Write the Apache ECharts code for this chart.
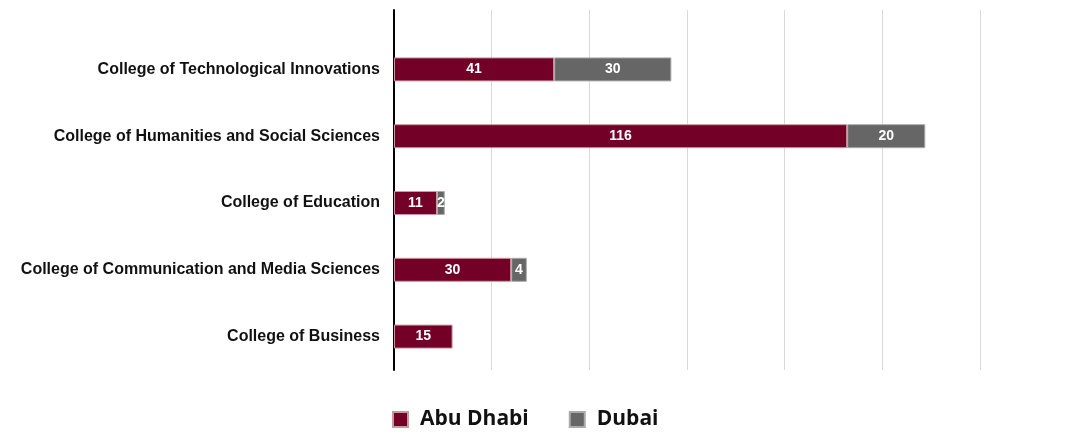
<!DOCTYPE html>
<html>
<head>
<meta charset="utf-8">
<script src="https://cdn.jsdelivr.net/npm/echarts@6/dist/echarts.min.js"></script>
<style>
  html, body { margin: 0; padding: 0; background: #fff; }
  #chart { width: 1067px; height: 435px; }
</style>
</head>
<body>
<div id="chart"></div>
<script>
// colleges, top to bottom
const colleges = [
  'College of Technological Innovations',
  'College of Humanities and Social Sciences',
  'College of Education',
  'College of Communication and Media Sciences',
  'College of Business',
]
const abuDhabi = [41, 116, 11, 30, 15]
const dubai = [30, 20, 2, 4, null]

const chart = echarts.init(document.getElementById('chart'))

const barLabel = {
  show: true,
  color: '#fff',
  fontFamily: 'Liberation Sans, Arial, sans-serif',
  fontWeight: 'bold',
  fontSize: 14,
}

const option = {
  animation: false,
  // grid 0 only draws the taller gridlines and the axis line, grid 1 holds the bars
  grid: [
    { left: 394, right: 87, top: 10, bottom: 65 },
    { left: 394, right: 87, top: 36, bottom: 65 },
  ],
  legend: {
    bottom: 0,
    left: 387,
    icon: 'rect',
    itemWidth: 15,
    itemHeight: 15,
    itemGap: 40,
    textStyle: {
      fontFamily: 'Open Sans, sans-serif',
      fontWeight: 'bold',
      fontSize: 21,
      color: '#111',
      padding: [0, 0, 0, 7],
    },
    data: ['Abu Dhabi', 'Dubai'],
  },
  xAxis: [
    {
      gridIndex: 0,
      type: 'value',
      min: 0,
      max: 150,
      interval: 25,
      axisLine: { show: false },
      axisTick: { show: false },
      axisLabel: { show: false },
      splitLine: { lineStyle: { color: '#d9d9d9', width: 1 } },
    },
    {
      gridIndex: 1,
      type: 'value',
      min: 0,
      max: 150,
      interval: 25,
      axisLine: { show: false },
      axisTick: { show: false },
      axisLabel: { show: false },
      splitLine: { show: false },
    },
  ],
  yAxis: [
    {
      gridIndex: 0,
      type: 'category',
      data: [''],
      axisLine: { lineStyle: { color: '#000', width: 2 } },
      axisTick: { show: false },
      axisLabel: { show: false },
    },
    {
      gridIndex: 1,
      type: 'category',
      inverse: true,
      data: colleges,
      axisLine: { show: false },
      axisTick: { show: false },
      axisLabel: {
        margin: 14,
        color: '#111',
        fontFamily: 'Liberation Sans, Arial, sans-serif',
        fontWeight: 'bold',
        fontSize: 16,
      },
    },
  ],
  series: [
    {
      name: 'Abu Dhabi',
      type: 'bar',
      stack: 'total',
      xAxisIndex: 1,
      yAxisIndex: 1,
      barWidth: 24,
      data: abuDhabi,
      itemStyle: { color: '#720027', borderColor: '#c79aa0', borderWidth: 1 },
      label: barLabel,
    },
    {
      name: 'Dubai',
      type: 'bar',
      stack: 'total',
      xAxisIndex: 1,
      yAxisIndex: 1,
      barWidth: 24,
      data: dubai,
      itemStyle: { color: '#666666', borderColor: '#aaaaaa', borderWidth: 1 },
      label: barLabel,
    },
  ],
}

chart.setOption(option)
</script>
</body>
</html>
